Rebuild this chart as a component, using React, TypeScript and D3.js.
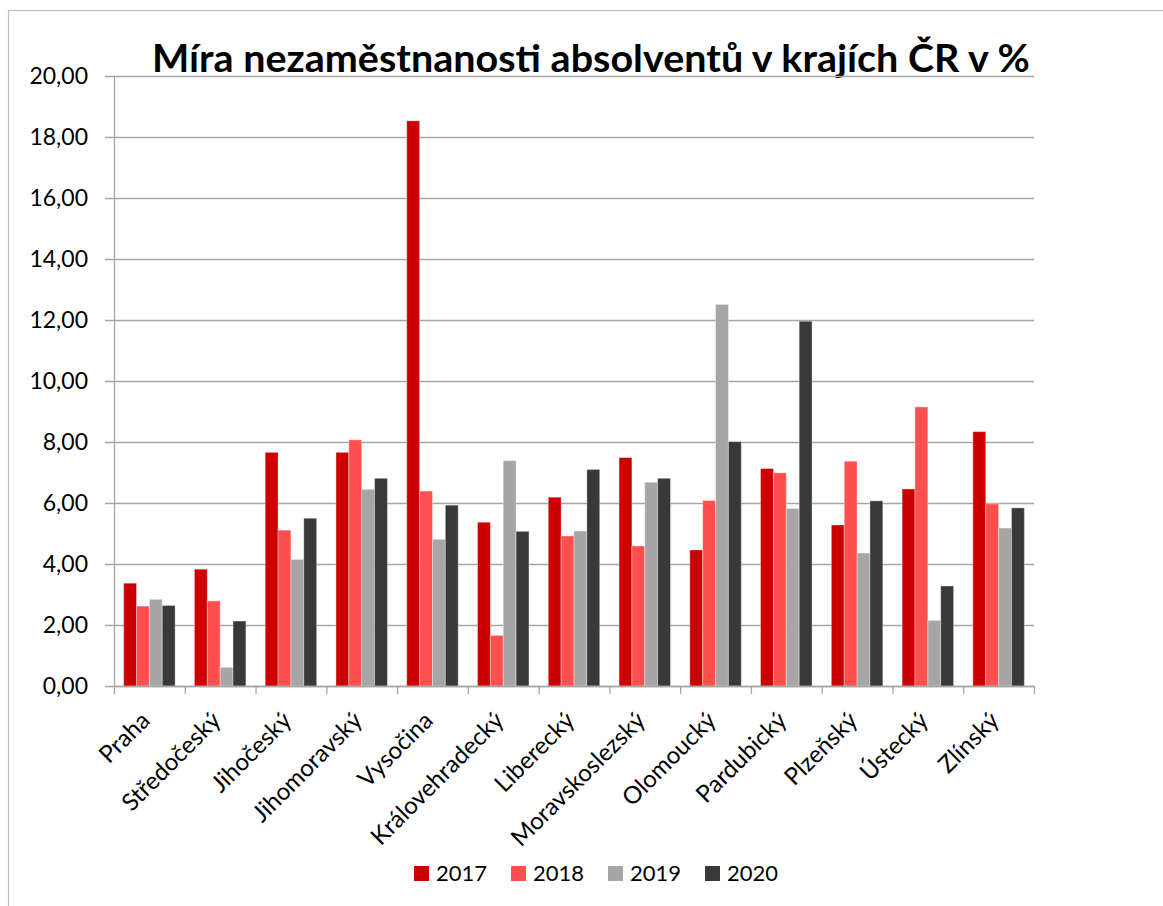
import React from "react";
import * as d3 from "d3";

const categories = ["Praha", "Středočeský", "Jihočeský", "Jihomoravský", "Vysočina", "Královehradecký", "Liberecký", "Moravskoslezský", "Olomoucký", "Pardubický", "Plzeňský", "Ústecký", "Zlínský"];
const years = ["2017", "2018", "2019", "2020"];
const v2017 = [3.37, 3.83, 7.66, 7.66, 18.53, 5.37, 6.19, 7.49, 4.46, 7.13, 5.28, 6.46, 8.34];
const v2018 = [2.62, 2.79, 5.11, 8.07, 6.39, 1.66, 4.92, 4.59, 6.08, 6.99, 7.37, 9.15, 5.97];
const v2019 = [2.84, 0.61, 4.15, 6.45, 4.81, 7.39, 5.08, 6.68, 12.51, 5.82, 4.36, 2.15, 5.18];
const v2020 = [2.64, 2.13, 5.50, 6.81, 5.93, 5.07, 7.10, 6.81, 8.01, 11.96, 6.07, 3.28, 5.84];
const seriesValues = [v2017, v2018, v2019, v2020];
const colors = ["#CC0000", "#FF5050", "#A6A6A6", "#3A3938"];
const yTicks = [0, 2, 4, 6, 8, 10, 12, 14, 16, 18, 20];
const title = "Míra nezaměstnanosti absolventů v krajích ČR v %";

export default function App() {
  const W = 1163, H = 906;
  const left = 114, right = 1034, top = 76, bottom = 686;
  const font = "Lato, 'Open Sans', sans-serif";
  const x = d3.scaleBand<string>().domain(categories).range([left, right]).padding(0);
  const y = d3.scaleLinear().domain([0, 20]).range([bottom, top]);
  const step = x.step();
  const groupW = (step * 4) / 5.5;
  const inner = d3.scaleBand<string>().domain(years).range([0, groupW]).padding(0);
  const fmt = (v: number) => d3.format(".2f")(v).replace(".", ",");
  const gridColor = "#A6A6A6";

  return (
    <svg width={W} height={H} style={{ position: "fixed", left: 0, top: 0, background: "#fff" }}>
      <rect x={0} y={0} width={W} height={H} fill="#fff" />
      <rect x={8.5} y={10.5} width={W + 20} height={H + 20} fill="none" stroke="#BFBFBF" strokeWidth={1.2} />
      <text x={152} y={72} fontFamily={font} fontWeight={700} fontSize={38} fill="#000" textLength={878} lengthAdjust="spacingAndGlyphs">{title}</text>
      {yTicks.map((t) => (
        <g key={t}>
          <line x1={105} x2={right} y1={y(t) + 0.5} y2={y(t) + 0.5} stroke={gridColor} strokeWidth={1.3} />
          <text x={88} y={y(t)} dy="0.36em" textAnchor="end" fontFamily={font} fontSize={23} fill="#000">{fmt(t)}</text>
        </g>
      ))}
      <line x1={left + 0.5} x2={left + 0.5} y1={top} y2={bottom + 8} stroke={gridColor} strokeWidth={1.3} />
      {categories.map((c, i) => (
        <line key={"tk" + i} x1={(x(c) as number) + step + 0.5} x2={(x(c) as number) + step + 0.5} y1={bottom} y2={bottom + 8} stroke={gridColor} strokeWidth={1.3} />
      ))}
      {categories.map((c, i) => {
        const gx = (x(c) as number) + (step - groupW) / 2;
        return (
          <g key={"g" + i}>
            {years.map((yr, s) => {
              const v = seriesValues[s][i];
              return (
                <rect key={yr} x={gx + (inner(yr) as number)} y={y(v)} width={inner.bandwidth()} height={bottom - y(v)} fill={colors[s]} stroke="#fff" strokeOpacity={0.35} strokeWidth={1} />
              );
            })}
          </g>
        );
      })}
      <line x1={left} x2={right} y1={bottom + 0.5} y2={bottom + 0.5} stroke={gridColor} strokeWidth={1.3} />
      {categories.map((c, i) => {
        const cx = (x(c) as number) + step / 2 + 2;
        return (
          <text key={"xl" + i} transform={`translate(${cx},722) rotate(-45)`} textAnchor="end" fontFamily={font} fontSize={24} fill="#000">{c}</text>
        );
      })}
      {years.map((yr, s) => (
        <g key={"lg" + yr} transform={`translate(${414 + s * 97},866)`}>
          <rect x={0} y={0} width={15} height={15} fill={colors[s]} />
          <text x={22} y={15} fontFamily={font} fontSize={22} fill="#000">{yr}</text>
        </g>
      ))}
    </svg>
  );
}
